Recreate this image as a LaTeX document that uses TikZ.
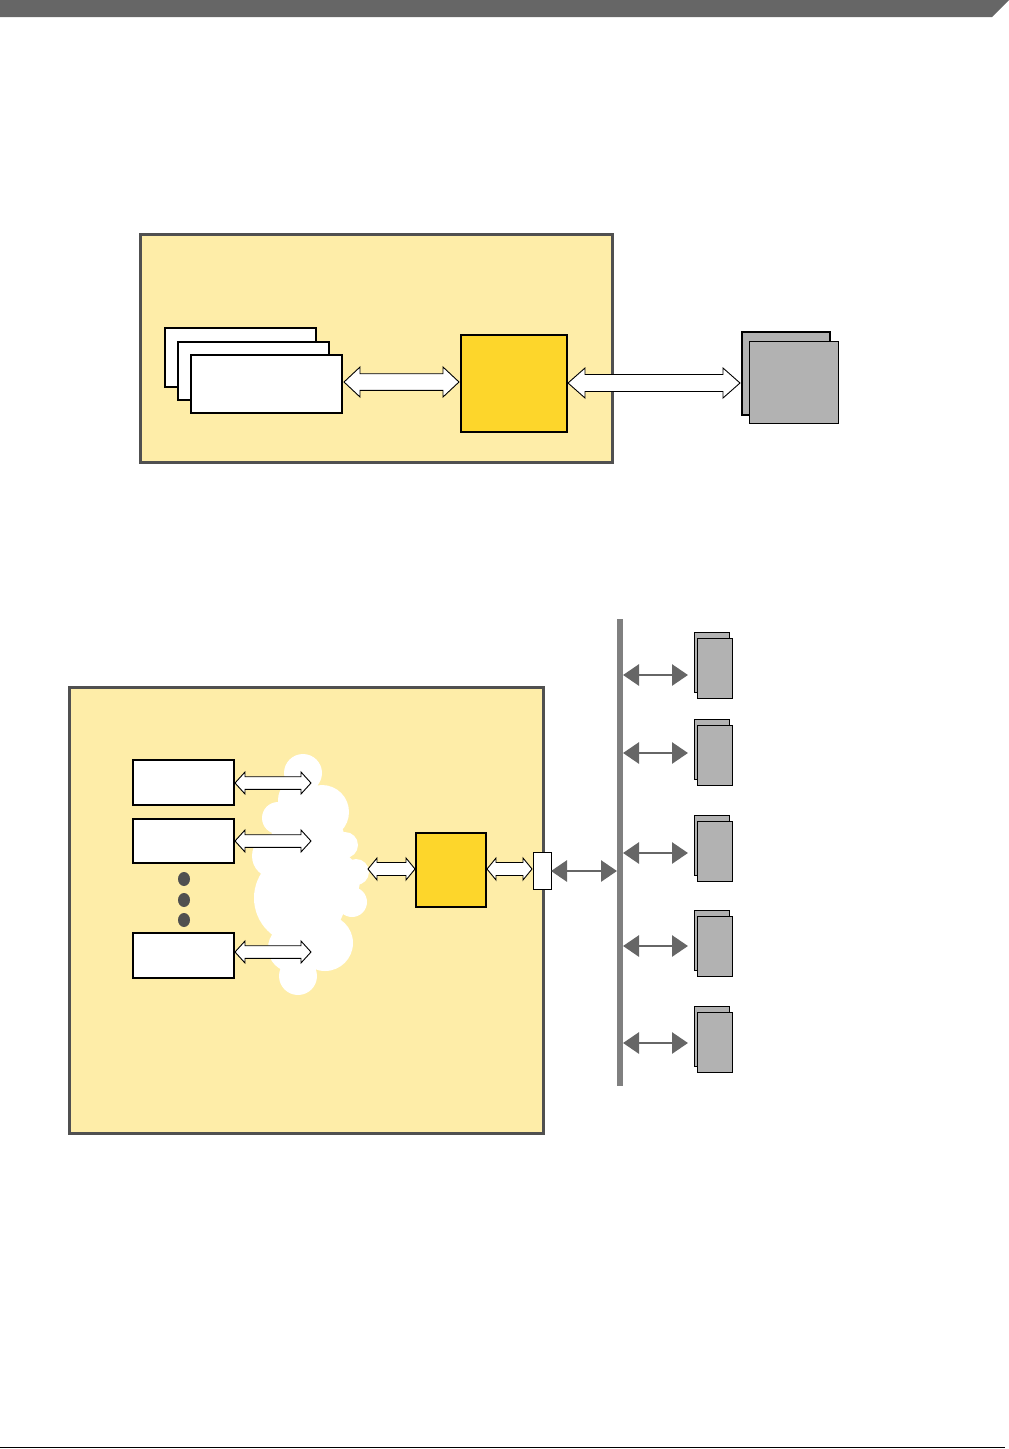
\documentclass[tikz,border=0pt]{standalone}
\usetikzlibrary{calc,arrows.meta,fit}
\definecolor{paleyel}{RGB}{254,237,168}
\definecolor{gold}{RGB}{253,214,43}
\definecolor{framegray}{RGB}{80,80,80}
\definecolor{devgray}{RGB}{178,178,178}
\definecolor{bargray}{RGB}{102,102,102}
\definecolor{busgray}{RGB}{128,128,128}
\tikzset{
  region/.style={draw=framegray, line width=3pt, fill=paleyel, inner sep=0pt, outer sep=0pt},
  card/.style={draw=black, line width=2pt, fill=white, inner sep=0pt, outer sep=0pt},
  smallcard/.style={draw=black, line width=1.6pt, fill=white, inner sep=0pt, outer sep=0pt},
  goldbox/.style={draw=black, line width=2pt, fill=gold, inner sep=0pt, outer sep=0pt},
  devbox/.style={draw=black, line width=1pt, fill=devgray, inner sep=0pt, outer sep=0pt},
  portbox/.style={draw=black, line width=1pt, fill=white, inner sep=0pt, outer sep=0pt},
  barrow/.style={draw=black, line width=0.9pt, fill=white, line join=miter},
  busarrow/.style={draw=bargray, line width=2.8pt, {Triangle[length=16pt,width=21pt]}-{Triangle[length=16pt,width=21pt]}},
  busline/.style={draw=busgray, line width=6pt},
  dotmark/.style={fill=framegray}
}
\newcommand\blockarrow[5]{%
  \draw[barrow] (#1) -- ++(#5,-#4) -- ++(0,#4-#3) -- ($(#2)+(-#5,-#3)$) -- ++(0,#3-#4)
    -- (#2) -- ++(-#5,#4) -- ++(0,#3-#4) -- ($(#1)+(#5,#3)$) -- ++(0,#4-#3) -- cycle;}
\begin{document}
\begin{tikzpicture}[x=1pt,y=-1pt]
\useasboundingbox (0,0) rectangle (1009,1449);
% header bar and footer rule
\fill[bargray] (0,0) -- (1009,0) -- (992,17) -- (0,17) -- cycle;
\draw[line width=1.5pt] (0,1447.5) -- (1005,1447.5);

% ---------------- upper diagram ----------------
\node[region, fit={(140,234) (612,462)}] (sys1) {};
\node[card, fit={(165,328) (316,387)}] (c1) {};
\node[card, fit={(178,342) (329,400)}] (c2) {};
\node[card, fit={(191,355) (342,413)}] (c3) {};
\node[goldbox, fit={(461,335) (567,432)}] (ctl1) {};
\node[devbox, line width=2pt, fit={(742,332) (830,415)}] (ext1b) {};
\node[devbox, fit={(749,341) (838,423)}] (ext1) {};

\coordinate (a1s) at ([xshift=2pt]c3.east |- 0,382);
\coordinate (a1e) at ([xshift=-2pt]ctl1.west |- a1s);
\blockarrow{a1s}{a1e}{8.3}{15}{16}
\coordinate (a2s) at ([xshift=1pt]ctl1.east |- 0,383);
\coordinate (a2e) at ([xshift=-2pt]ext1b.west |- a2s);
\blockarrow{a2s}{a2e}{8.5}{15}{17}

% ---------------- lower diagram ----------------
\node[region, fit={(69,687) (543,1133)}] (sys2) {};
% cloud
\fill[white]
  (303,773) circle (19)
  (322,812) circle (27)
  (300,800) circle (22)
  (278,818) circle (16)
  (274,856) circle (22)
  (345,845) circle (13)
  (356,872) circle (13)
  (308,845) circle (38)
  (300,898) circle (46)
  (352,902) circle (15)
  (325,943) circle (28)
  (292,948) circle (24)
  (298,976) circle (19)
  (330,880) circle (30);

\node[smallcard, fit={(133,760) (234,805)}] (m1) {};
\node[smallcard, fit={(133,819) (234,863)}] (m2) {};
\node[smallcard, fit={(133,933) (234,978)}] (m3) {};
\fill[dotmark] (184,879) ellipse (6 and 7);
\fill[dotmark] (184,900) ellipse (6 and 7);
\fill[dotmark] (184,920) ellipse (6 and 7);

\node[goldbox, line width=1.5pt, fit={(416,833) (486,907)}] (ctl2) {};
\node[portbox, fit={(533,852) (551,889)}] (port) {};

\coordinate (cl1) at (311,783);
\coordinate (cl2) at (311,841);
\coordinate (cl3) at (311,952);
\coordinate (cl4) at (368,869);
\blockarrow{[xshift=1pt]m1.east |- cl1}{cl1}{6.3}{11}{10}
\blockarrow{[xshift=1pt]m2.east |- cl2}{cl2}{6.3}{11}{10}
\blockarrow{[xshift=1pt]m3.east |- cl3}{cl3}{6.3}{11}{10}
\coordinate (a4e) at ([xshift=-1pt]ctl2.west |- cl4);
\blockarrow{cl4}{a4e}{6.5}{11}{9}
\coordinate (a5s) at ([xshift=1pt]ctl2.east |- cl4);
\coordinate (a5e) at ([xshift=-1pt]port.west |- cl4);
\blockarrow{a5s}{a5e}{6.5}{11}{9}

% bus
\coordinate (busTop) at (620,619);
\coordinate (busBot) at (620,1086);
\draw[busline] (busTop) -- (busBot);
\coordinate (busIn) at (617,871);
\draw[busarrow] (port.east |- busIn) -- (busIn);

% devices on the bus
\foreach \t/\a [count=\i] in {632/675, 719/753, 815/853, 910/946, 1006/1043} {
  \node[devbox, fit={(694,\t) (729,\t+60)}] (devb\i) {};
  \node[devbox, fit={(697,\t+6) (732,\t+66)}] (dev\i) {};
  \coordinate (tap\i) at (623,\a);
  \draw[busarrow] (tap\i) -- ([xshift=-6pt]devb\i.west |- tap\i);
}
\end{tikzpicture}
\end{document}
